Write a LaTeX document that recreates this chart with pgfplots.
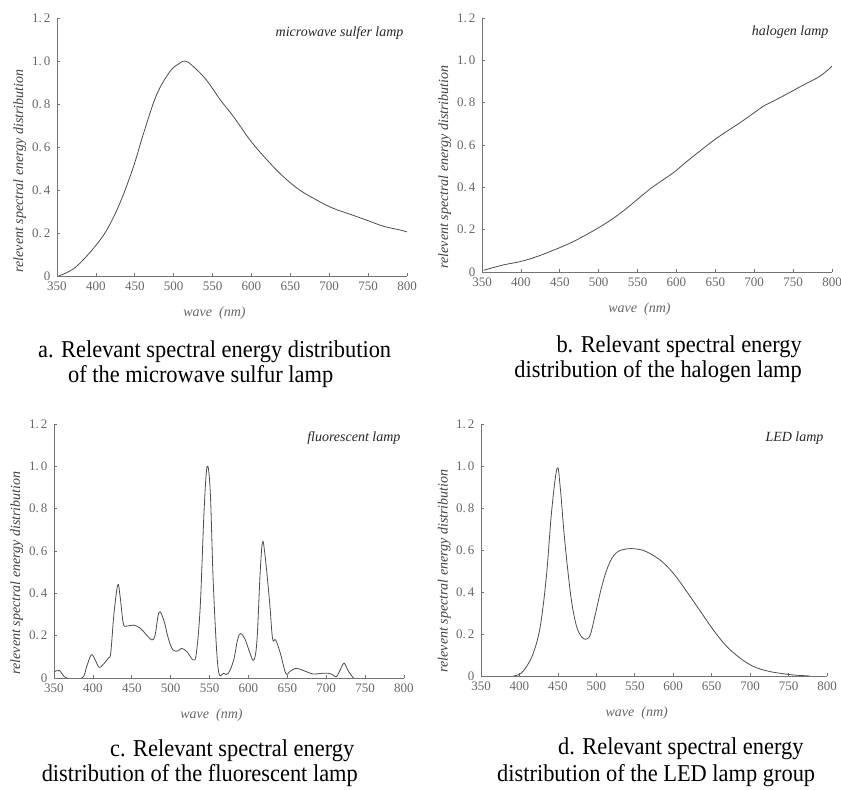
\documentclass[border=0pt]{standalone}
\usepackage{fontspec}
\setmainfont{Liberation Serif}
\usepackage{pgfplots}
\pgfplotsset{compat=1.18}

\definecolor{curve}{gray}{0.3}
\definecolor{axisgray}{gray}{0.45}
\definecolor{ticktext}{gray}{0.4}

\newcommand{\lbl}[1]{\fontsize{14}{16}\selectfont\itshape #1}
\newcommand{\capt}[1]{\scalebox{1}[1.08]{\fontsize{22.4}{24}\selectfont #1}}

\tikzset{ttl/.style={anchor=east, font=\fontsize{14}{16}\selectfont\itshape, text=black!85}}

\pgfplotsset{
  spec/.style={
    scale only axis, anchor=south west,
    axis lines*=left,
    axis line style={axisgray, line width=0.7pt},
    xmin=350, xmax=800, ymin=0, ymax=1.2,
    xtick={350,400,...,800},
    xticklabels={350,400,450,500,550,600,650,700,750,800},
    ytick={0,0.2,0.4,0.6,0.8,1.0,1.2},
    yticklabels={0,{0.\,2},{0.\,4},{0.\,6},{0.\,8},{1.\,0},{1.\,2}},
    tick align=inside,
    major tick length=3pt,
    tick style={axisgray, line width=0.6pt},
    ticklabel style={font=\fontsize{13}{15}\selectfont, text=ticktext},
    xticklabel style={yshift=-2.5pt},
    yticklabel style={xshift=-3pt},
    xlabel={\lbl{wave~~(nm)}},
    x label style={at={(axis description cs:0.45,0)}, anchor=center, yshift=-37pt, text=ticktext},
    ylabel={\lbl{relevent spectral energy distribution}},
    y label style={at={(axis description cs:-0.106,0)}, anchor=west, text=black!75},
    every axis plot post/.append style={draw=curve, line width=0.8pt, mark=none, smooth, tension=0.6},
  },
}

\begin{document}
\begin{tikzpicture}
\useasboundingbox (0pt,0pt) rectangle (841pt,790pt);

% a. microwave sulfur lamp
\begin{axis}[spec, at={(57pt,514pt)}, width=350pt, height=258pt]
\addplot coordinates {
(352,0.0) (365,0.02) (377,0.051) (397,0.129) (414,0.214) (431,0.34) (448,0.505)
(461,0.66) (478,0.842) (495,0.950) (507,0.988) (515,1.0) (525,0.975) (542,0.912)
(560,0.819) (577,0.741) (598,0.633) (620,0.540) (641,0.462) (662,0.400) (684,0.353)
(705,0.315) (727,0.287) (748,0.260) (770,0.231) (791,0.214) (800,0.205)
};
\node[ttl] at (rel axis cs:1,0.943) {microwave sulfer lamp};
\end{axis}

% b. halogen lamp
\begin{axis}[spec, at={(482pt,518pt)}, width=350pt, height=254pt]
\addplot coordinates {
(352,0.008) (377,0.033) (399,0.049) (420,0.072) (448,0.112) (467,0.143) (485,0.178)
(502,0.214) (519,0.254) (536,0.301) (553,0.353) (570,0.403) (596,0.469) (613,0.521)
(639,0.597) (656,0.643) (682,0.706) (699,0.750) (712,0.784) (725,0.808) (742,0.841)
(763,0.883) (785,0.926) (800,0.973)
};
\node[ttl] at (rel axis cs:1,0.943) {halogen lamp};
\end{axis}

% c. fluorescent lamp
\begin{axis}[spec, at={(54pt,112pt)}, width=350pt, height=254pt]
\addplot+[tension=0.45] coordinates {
(351,0.03) (357,0.035) (366,0.0) (386,0.0) (392,0.054) (398,0.11) (403,0.085)
(408,0.05) (413,0.063) (420,0.095) (423,0.12) (427,0.30) (432,0.44) (435,0.385)
(439,0.26) (443,0.245) (452,0.25) (461,0.235) (469,0.203) (476,0.18) (480,0.203)
(485,0.31) (491,0.275) (497,0.187) (503,0.132) (510,0.129) (514,0.14) (521,0.124)
(529,0.085) (533,0.117) (538,0.337) (543,0.794) (547,1.0) (551,0.872) (555,0.43)
(561,0.046) (568,0.022) (574,0.022) (581,0.085) (586,0.18) (590,0.21) (596,0.18)
(602,0.117) (607,0.085) (611,0.18) (615,0.494) (618,0.64) (621,0.59) (627,0.368)
(631,0.187) (635,0.18) (641,0.117) (648,0.022) (653,0.03) (661,0.046) (671,0.035)
(683,0.019) (694,0.022) (703,0.022) (709,0.014) (713,0.006) (718,0.038) (723,0.07)
(728,0.035) (735,0.0)
};
\node[ttl] at (rel axis cs:1,0.943) {fluorescent lamp};
\end{axis}

% d. LED lamp
\begin{axis}[spec, at={(481pt,114pt)}, width=346pt, height=252pt]
\addplot coordinates {
(392,0.0) (401,0.01) (409,0.044) (418,0.108) (427,0.235) (435,0.473) (442,0.79)
(449,0.99) (453,0.90) (458,0.68) (463,0.50) (468,0.35) (474,0.24) (480,0.19)
(486,0.175) (492,0.195) (498,0.283) (507,0.425) (516,0.529) (526,0.587) (539,0.605)
(552,0.605) (565,0.592) (583,0.552) (600,0.49) (617,0.405) (635,0.31) (652,0.22)
(669,0.143) (687,0.085) (704,0.046) (721,0.025) (739,0.013) (756,0.005) (778,0.0)
};
\node[ttl] at (rel axis cs:1,0.943) {LED lamp};
\end{axis}

% captions
\node[anchor=base west, inner sep=0pt] at (38pt,432pt) {\capt{a. Relevant spectral\ energy distribution}};
\node[anchor=base west, inner sep=0pt] at (68pt,407pt) {\capt{of the microwave sulfur lamp}};
\node[anchor=base east, inner sep=0pt] at (802pt,437pt) {\capt{b. Relevant spectral energy}};
\node[anchor=base east, inner sep=0pt] at (802pt,412pt) {\capt{distribution of the halogen lamp}};
\node[anchor=base west, inner sep=0pt] at (110pt,33pt) {\capt{c. Relevant spectral energy}};
\node[anchor=base east, inner sep=0pt] at (358pt,8pt) {\capt{distribution of the fluorescent lamp}};
\node[anchor=base west, inner sep=0pt] at (558pt,35pt) {\capt{d. Relevant spectral energy}};
\node[anchor=base west, inner sep=0pt] at (497pt,8pt) {\capt{distribution of the LED lamp group}};
\end{tikzpicture}
\end{document}
